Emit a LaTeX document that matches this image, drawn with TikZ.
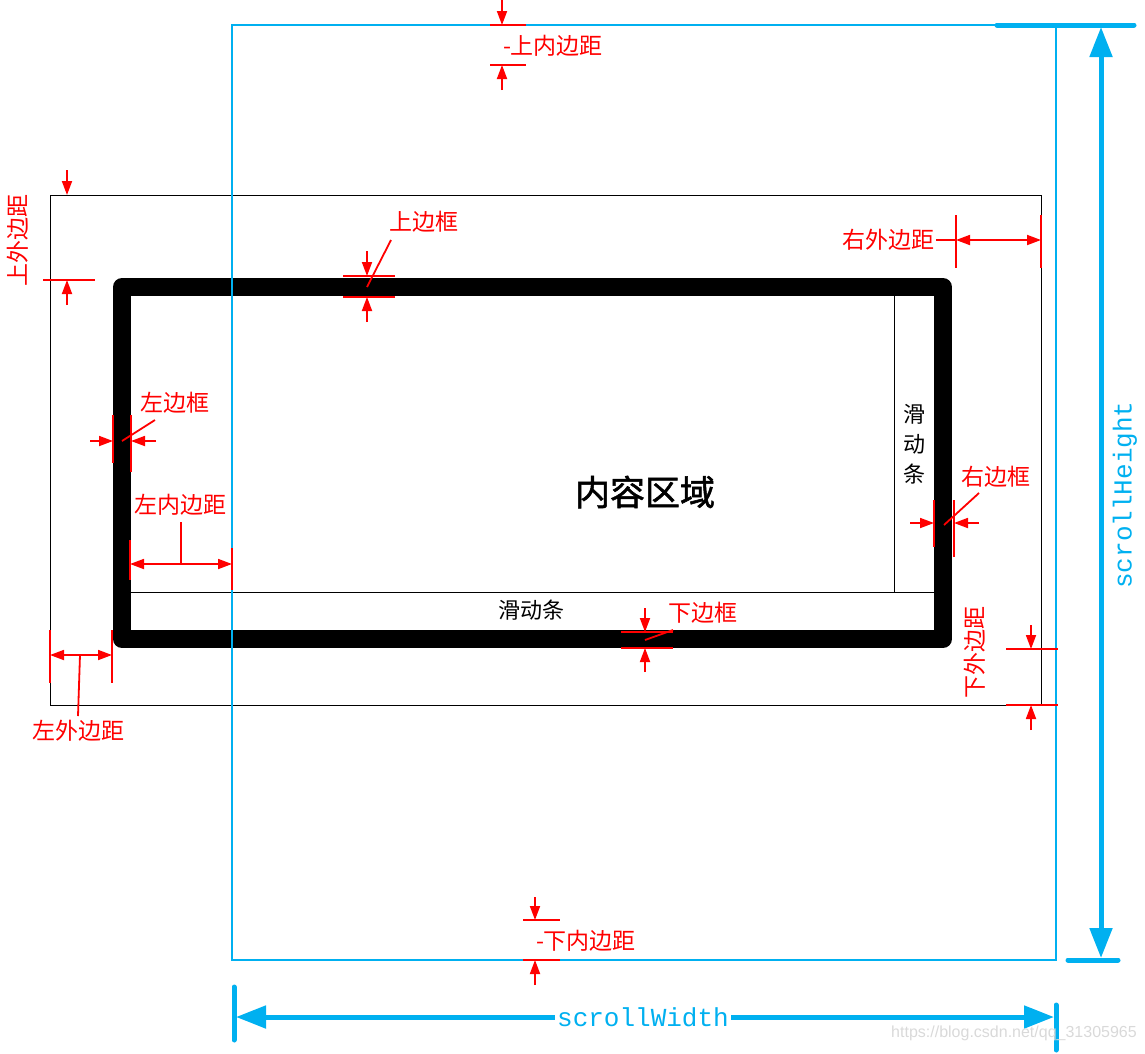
\documentclass[tikz,border=0pt]{standalone}
\usepackage{fontspec}
\setmonofont{Liberation Mono}
\newfontfamily\cjk{Noto Sans CJK SC}
\newfontfamily\cjkbold[FakeBold=1.5]{Noto Sans CJK SC}
\newfontfamily\wmfont{Liberation Sans}
\usetikzlibrary{arrows.meta, positioning, calc}
\definecolor{scrollblue}{RGB}{0,176,240}
\tikzstyle{dim} = [red, line width=1.8pt]
\tikzstyle{dimarrow} = [dim, -{Triangle[length=14pt,width=10pt]}]
\tikzstyle{dimboth} = [dim, {Triangle[length=14pt,width=10pt]}-{Triangle[length=14pt,width=10pt]}]
\tikzstyle{redlabel} = [text=red, font=\cjk\fontsize{23}{23}\selectfont, inner sep=1pt]
\tikzstyle{barlabel} = [text=black, font=\cjk\fontsize{22}{30}\selectfont, inner sep=1pt]
\tikzstyle{scrolllabel} = [text=scrollblue, font=\ttfamily\fontsize{26}{26}\selectfont, inner sep=2pt]
\tikzstyle{scrollarrow} = [scrollblue, line width=5pt, {Triangle[length=30pt,width=22pt]}-{Triangle[length=30pt,width=22pt]}]
\tikzstyle{scrolltick} = [scrollblue, line width=5pt, line cap=round]

\begin{document}
\begin{tikzpicture}[x=1pt, y=-1pt]
    \useasboundingbox (0,0) rectangle (1145,1053);
    % Box corners
    \coordinate (pad-nw) at (232,25);
    \coordinate (pad-se) at (1056,960);
    \coordinate (mar-nw) at (50,195);
    \coordinate (mar-se) at (1041,705);
    \coordinate (bd-nw) at (122,287);
    \coordinate (bd-se) at (943,639);

    % Margin box, border and scroll bars
    \draw[black, line width=1pt] (mar-nw) rectangle (mar-se);
    \draw[black, line width=18pt, line join=round] (bd-nw) rectangle (bd-se);
    \draw[black, line width=1pt] (894,296) -- (894,592);
    \draw[black, line width=1pt] (131,592) -- (934,592);
    \node[font=\cjkbold\fontsize{35}{35}\selectfont] (content) at (645,492) {内容区域};
    \node[barlabel, align=center] (vbar-label) at (914,444) {滑\\动\\条};
    \node[barlabel] (hbar-label) at (531,610) {滑动条};

    % Padding box
    \draw[scrollblue, line width=1.5pt] (pad-nw) rectangle (pad-se);

    % Top inner padding
    \draw[dim] (490,25) -- (526,25);
    \draw[dimarrow] (502,0) -- (502,25);
    \draw[dim] (490,65) -- (526,65);
    \draw[dimarrow] (502,90) -- (502,65);
    \node[redlabel] (tip-label) at (553,46) {-上内边距};

    % Top outer margin
    \draw[dimarrow] (67,170) -- (67,195);
    \draw[dim] (43,280) -- (95,280);
    \draw[dimarrow] (67,305) -- (67,280);
    \node[redlabel, rotate=90] (tom-label) at (18,240) {上外边距};

    % Top border
    \draw[dim] (343,276) -- (395,276);
    \draw[dim] (343,297) -- (395,297);
    \draw[dimarrow] (367,251) -- (367,276);
    \draw[dimarrow] (367,322) -- (367,297);
    \node[redlabel] (tb-label) at (424,222) {上边框};
    \draw[dim] (367,287) -- (391,240);

    % Left border
    \draw[dim] (113,415) -- (113,463);
    \draw[dim] (131,415) -- (131,472);
    \draw[dimarrow] (90,441) -- (113,441);
    \draw[dimarrow] (156,441) -- (131,441);
    \draw[dim] (122,441) -- (155,420);
    \node[redlabel] (lb-label) at (175,403) {左边框};

    % Left inner padding
    \draw[dim] (130,540) -- (130,580);
    \draw[dim] (232,548) -- (232,590);
    \draw[dimboth] (130,564) -- (232,564);
    \draw[dim] (181,564) -- (181,522);
    \node[redlabel] (lip-label) at (180,505) {左内边距};

    % Left outer margin
    \draw[dim] (50,630) -- (50,683);
    \draw[dim] (112,630) -- (112,683);
    \draw[dimboth] (50,655) -- (112,655);
    \draw[dim] (80,655) -- (78,716);
    \node[redlabel] (lom-label) at (78,731) {左外边距};

    % Right border
    \draw[dim] (934,500) -- (934,547);
    \draw[dim] (954,500) -- (954,557);
    \draw[dimarrow] (910,523) -- (934,523);
    \draw[dimarrow] (979,523) -- (954,523);
    \draw[dim] (944,525) -- (979,493);
    \node[redlabel] (rb-label) at (996,477) {右边框};

    % Bottom border
    \draw[dim] (621,632) -- (673,632);
    \draw[dim] (621,648) -- (673,648);
    \draw[dimarrow] (645,608) -- (645,632);
    \draw[dimarrow] (645,672) -- (645,648);
    \draw[dim] (645,640) -- (673,630);
    \node[redlabel] (bb-label) at (703,613) {下边框};

    % Right outer margin
    \draw[dim] (956,215) -- (956,268);
    \draw[dim] (1041,215) -- (1041,268);
    \draw[dimboth] (956,240) -- (1041,240);
    \node[redlabel, anchor=east] (rom-label) at (936,240) {右外边距};
    \draw[dim] (rom-label.east) -- (956,240);

    % Bottom outer margin
    \draw[dim] (1006,649) -- (1058,649);
    \draw[dim] (1006,705) -- (1058,705);
    \draw[dimarrow] (1031,625) -- (1031,649);
    \draw[dimarrow] (1031,730) -- (1031,705);
    \node[redlabel, rotate=90] (bom-label) at (975,652) {下外边距};

    % Bottom inner padding
    \draw[dim] (523,920) -- (560,920);
    \draw[dimarrow] (535,897) -- (535,920);
    \draw[dim] (523,960) -- (560,960);
    \draw[dimarrow] (535,985) -- (535,960);
    \node[redlabel] (bip-label) at (586,941) {-下内边距};

    % scrollHeight
    \draw[scrolltick] (997,25) -- (1134,25);
    \draw[scrolltick] (1068,960) -- (1118,960);
    \draw[scrollarrow] (1101,27) -- (1101,958);
    \node[scrolllabel, rotate=90] (sh-label) at (1125,495) {scrollHeight};

    % scrollWidth
    \draw[scrolltick] (234,987) -- (234,1040);
    \draw[scrolltick] (1056,1005) -- (1056,1050);
    \draw[scrollarrow] (236,1017) -- (1054,1017);
    \node[scrolllabel, fill=white] (sw-label) at (643,1017) {scrollWidth};

    \node[text=gray!30, font=\wmfont\fontsize{16}{16}\selectfont] (watermark) at (1014,1033) {https://blog.csdn.net/qq\_31305965};
\end{tikzpicture}
\end{document}
